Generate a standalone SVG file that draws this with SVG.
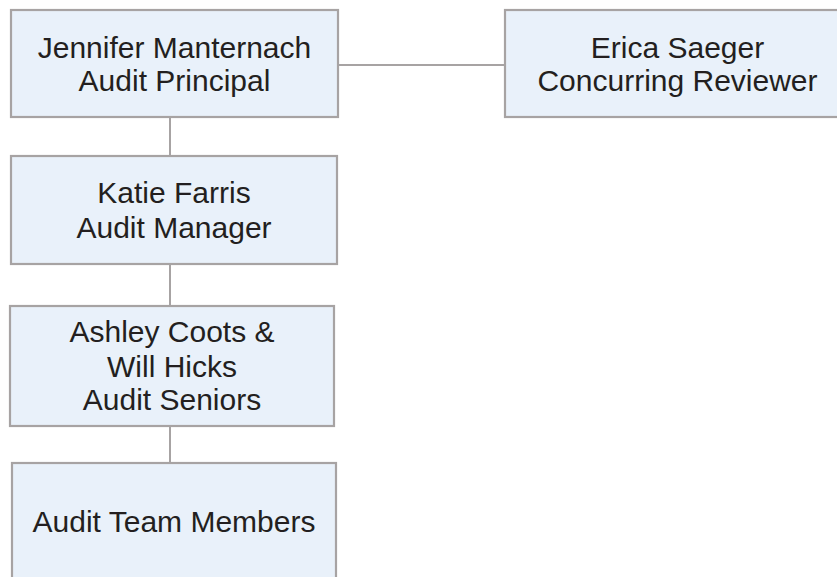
<svg xmlns="http://www.w3.org/2000/svg" width="837" height="577" viewBox="0 0 837 577">
<style>
.box{fill:#E9F1FA;stroke:#A7A3A3;stroke-width:2.2}
.conn{stroke:#A7A3A3;stroke-width:2;fill:none}
.t{font-family:'Liberation Sans',Arial,Helvetica,sans-serif;font-size:30px;fill:#231F20;text-anchor:middle}
</style>
<rect width="837" height="577" fill="#FFFFFF"/>
<g id="connectors">
<line class="conn" x1="338" y1="65" x2="505" y2="65"/>
<line class="conn" x1="170" y1="117" x2="170" y2="156"/>
<line class="conn" x1="170" y1="264" x2="170" y2="306"/>
<line class="conn" x1="170" y1="426" x2="170" y2="463"/>
</g>
<g id="jennifer">
<rect class="box" x="11" y="10" width="327" height="107"/>
<text class="t" x="174.5" y="57.5">Jennifer Manternach</text>
<text class="t" x="174.5" y="91">Audit Principal</text>
</g>
<g id="erica">
<rect class="box" x="505" y="10" width="345" height="107"/>
<text class="t" x="677.5" y="57.5">Erica Saeger</text>
<text class="t" x="677.5" y="91">Concurring Reviewer</text>
</g>
<g id="katie">
<rect class="box" x="11" y="156" width="326" height="108"/>
<text class="t" x="174" y="202.5">Katie Farris</text>
<text class="t" x="174" y="237.5">Audit Manager</text>
</g>
<g id="seniors">
<rect class="box" x="10" y="306" width="324" height="120"/>
<text class="t" x="172" y="341.5">Ashley Coots &amp;</text>
<text class="t" x="172" y="376.5">Will Hicks</text>
<text class="t" x="172" y="410">Audit Seniors</text>
</g>
<g id="team">
<rect class="box" x="12" y="463" width="324" height="130"/>
<text class="t" x="174" y="531.5">Audit Team Members</text>
</g>
</svg>
